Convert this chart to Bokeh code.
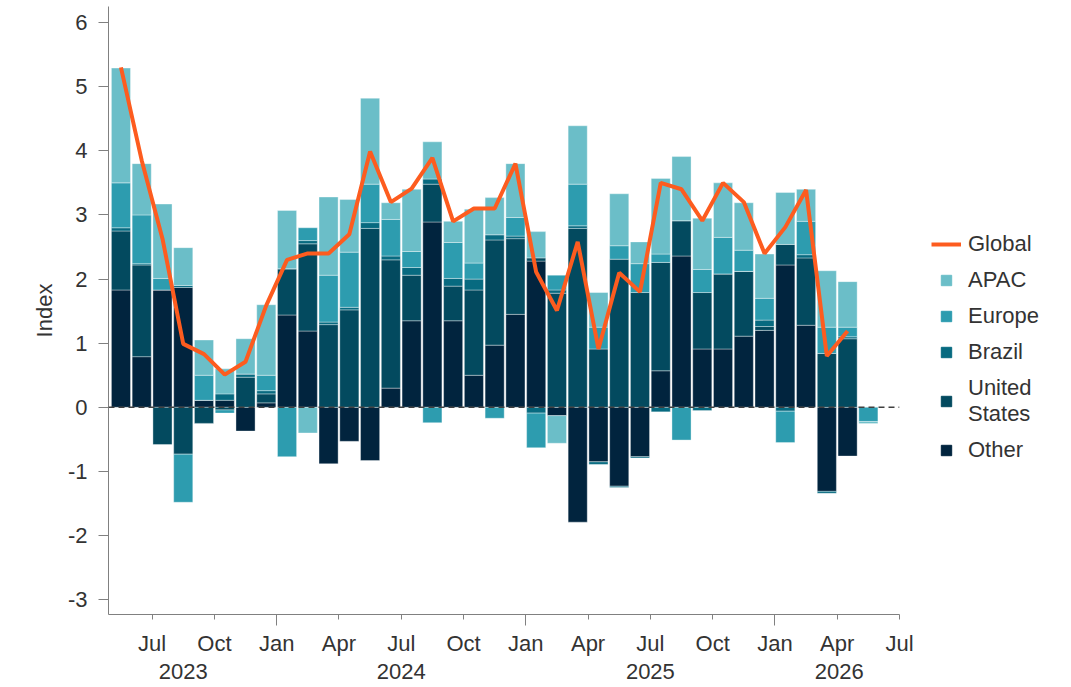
from bokeh.plotting import figure
from bokeh.layouts import row
from bokeh.models import Range1d, FixedTicker, Span, Legend, LegendItem, LinearAxis
from bokeh.embed import file_html
from bokeh.resources import INLINE

# ---------------- data ----------------
months = ["2023-05", "2023-06", "2023-07", "2023-08", "2023-09", "2023-10", "2023-11", "2023-12",
          "2024-01", "2024-02", "2024-03", "2024-04", "2024-05", "2024-06", "2024-07", "2024-08",
          "2024-09", "2024-10", "2024-11", "2024-12", "2025-01", "2025-02", "2025-03", "2025-04",
          "2025-05", "2025-06", "2025-07", "2025-08", "2025-09", "2025-10", "2025-11", "2025-12",
          "2026-01", "2026-02", "2026-03", "2026-04", "2026-05"]

other = [1.83, 0.79, 1.83, 1.87, 0.11, 0.11, -0.37, 0.07,
         1.44, 1.19, -0.88, -0.53, -0.83, 0.30, 1.35, 2.89,
         1.35, 0.50, 0.97, 1.45, 2.28, -0.13, -1.79, -0.85,
         -1.23, -0.77, 0.57, 2.36, 0.91, 0.91, 1.11, 1.20,
         2.22, 1.28, -1.31, -0.76, 0.0]
united_states = [0.92, 1.43, -0.58, -0.73, -0.25, -0.04, 0.47, 0.14,
                 0.72, 1.36, 1.29, 1.52, 2.79, 2.00, 0.71, 0.59,
                 0.54, 1.33, 1.64, 1.18, 0.05, 1.78, 2.79, 0.91,
                 2.31, 1.79, 1.69, 0.55, 0.88, 1.17, 1.01, 0.06,
                 0.32, 1.05, 0.84, 1.07, 0.0]
brazil = [0.05, 0.02, 0.0, 0.03, 0.0, 0.10, 0.05, 0.05,
          0.0, 0.05, 0.04, 0.04, 0.09, 0.06, 0.12, 0.08,
          0.12, 0.17, 0.08, 0.04, -0.09, 0.05, 0.04, -0.04,
          -0.02, -0.02, -0.07, 0.0, -0.05, 0.0, 0.0, 0.10,
          -0.06, 0.05, -0.03, 0.03, 0.0]
europe = [0.70, 0.76, 0.18, -0.75, 0.39, -0.05, 0.0, 0.24,
          -0.77, 0.20, 0.73, 0.86, 0.60, 0.57, 0.25, -0.24,
          0.56, 0.25, -0.17, 0.29, -0.54, 0.23, 0.65, 0.34,
          0.21, 0.45, 0.13, -0.51, 0.36, 0.57, 0.33, 0.34,
          -0.49, 0.52, 0.41, 0.15, -0.22]
apac = [1.79, 0.80, 1.16, 0.59, 0.55, 0.39, 0.55, 1.10,
        0.91, -0.40, 1.22, 0.82, 1.34, 0.26, 0.97, 0.58,
        0.33, 0.84, 0.58, 0.84, 0.41, -0.43, 0.91, 0.54,
        0.81, 0.34, 1.18, 1.00, 0.80, 0.85, 0.74, 0.69,
        0.81, 0.50, 0.88, 0.71, -0.03]
global_index = [5.30, 3.85, 2.63, 0.99, 0.83, 0.51, 0.71, 1.59,
                2.30, 2.40, 2.40, 2.70, 3.99, 3.20, 3.41, 3.89,
                2.90, 3.10, 3.10, 3.80, 2.11, 1.51, 2.58, 0.91,
                2.10, 1.80, 3.50, 3.40, 2.91, 3.50, 3.20, 2.40,
                2.81, 3.39, 0.80, 1.19]

tick_months = ["2023-07", "2023-10", "2024-01", "2024-04", "2024-07", "2024-10", "2025-01",
               "2025-04", "2025-07", "2025-10", "2026-01", "2026-04", "2026-07"]
tick_labels = ["Jul", "Oct", "Jan", "Apr", "Jul", "Oct", "Jan", "Apr", "Jul", "Oct", "Jan", "Apr", "Jul"]
year_labels = ["2023", "2024", "2025", "2026"]
y_ticks = [-3, -2, -1, 0, 1, 2, 3, 4, 5, 6]

series = [("Other", other, "#01243e"),
          ("United States", united_states, "#034a5f"),
          ("Brazil", brazil, "#076a80"),
          ("Europe", europe, "#2d9caf"),
          ("APAC", apac, "#6bbec8")]
line_color = "#fd5c1f"

# ---------------- helpers ----------------
def month_pos(m):
    return (int(m[:4]) - 2023) * 12 + int(m[5:7]) - 1

x_bar = [month_pos(m) + 0.5 for m in months]
x_line = x_bar[:len(global_index)]
tick_pos = [month_pos(m) for m in tick_months]
jan_pos = [t for t, l in zip(tick_pos, tick_labels) if l == "Jan"]
year_pos = [7.5, 18.0, 30.0, 39.1]

FONT = "Liberation Sans"
TXT = "#333333"
AX = "#808080"

p = figure(width=921, height=687, output_backend="svg", toolbar_location=None,
           x_range=Range1d(3.9, 42.0), y_range=Range1d(-3.23, 6.25),
           min_border_left=108, min_border_right=22, min_border_top=6, min_border_bottom=73)
p.outline_line_color = None
p.xgrid.visible = False
p.ygrid.visible = False
p.background_fill_color = "white"
p.border_fill_color = "white"

# stacked bars (positives up, negatives down)
pos_base = [0.0] * len(months)
neg_base = [0.0] * len(months)
for name, vals, color in series:
    bottoms, tops = [], []
    for i, v in enumerate(vals):
        if v >= 0:
            b = pos_base[i]; t = b + v; pos_base[i] = t
        else:
            b = neg_base[i]; t = b + v; neg_base[i] = t
        bottoms.append(b); tops.append(t)
    p.vbar(x=x_bar, bottom=bottoms, top=tops, width=0.92,
           fill_color=color, line_color="white", line_width=0.6, line_alpha=0.6)

zero = Span(location=0, dimension="width", line_color="#404040", line_width=1.5, line_dash="6 4")
p.add_layout(zero)

p.line(x_line, global_index, line_color=line_color, line_width=4)

# axes
xa = p.xaxis[0]
xa.ticker = FixedTicker(ticks=tick_pos, minor_ticks=jan_pos)
xa.major_label_overrides = {t: l for t, l in zip(tick_pos, tick_labels)}
xa.major_tick_out = 5
xa.major_tick_in = 0
xa.minor_tick_out = 11
xa.minor_tick_in = 0
xa.major_label_standoff = 5
xa.axis_line_color = AX
xa.major_tick_line_color = AX
xa.minor_tick_line_color = AX
xa.major_label_text_font = FONT
xa.major_label_text_font_size = "22px"
xa.major_label_text_color = TXT

year_axis = LinearAxis(ticker=FixedTicker(ticks=year_pos, minor_ticks=[]),
                       major_label_overrides={t: l for t, l in zip(year_pos, year_labels)},
                       axis_line_color=None, major_tick_line_color=None, minor_tick_line_color=None,
                       major_tick_out=0, major_tick_in=0, minor_tick_out=0, minor_tick_in=0,
                       major_label_standoff=5, major_label_text_font=FONT,
                       major_label_text_font_size="22px", major_label_text_color=TXT)
p.add_layout(year_axis, "below")

ya = p.yaxis[0]
ya.ticker = FixedTicker(ticks=y_ticks)
ya.major_label_overrides = {t: str(t) for t in y_ticks}
ya.major_tick_out = 10
ya.major_tick_in = 0
ya.minor_tick_line_color = None
ya.major_label_standoff = 11
ya.axis_line_color = AX
ya.major_tick_line_color = AX
ya.major_label_text_font = FONT
ya.major_label_text_font_size = "22px"
ya.major_label_text_color = TXT
ya.axis_label = "Index"
ya.axis_label_standoff = 8
ya.axis_label_text_font = FONT
ya.axis_label_text_font_size = "22px"
ya.axis_label_text_font_style = "normal"
ya.axis_label_text_color = TXT

# ---------------- legend panel ----------------
pl = figure(width=150, height=687, output_backend="svg", toolbar_location=None,
            x_range=Range1d(0, 1), y_range=Range1d(0, 1),
            x_axis_location=None, y_axis_location=None, min_border=0)
pl.outline_line_color = None
pl.xgrid.visible = False
pl.ygrid.visible = False
pl.background_fill_color = "white"
pl.border_fill_color = "white"

# legend key glyphs, placed off-range so only the legend shows them
key_line = pl.line(x=[-2.0, -1.0], y=[-2.0, -2.0], line_color=line_color, line_width=4)
keys = {}
for name, vals, color in series:
    keys[name] = pl.scatter(x=[-2.0], y=[-2.0], marker="square", size=16,
                            fill_color=color, line_color=color)

items = [LegendItem(label="Global", renderers=[key_line]),
         LegendItem(label="APAC", renderers=[keys["APAC"]]),
         LegendItem(label="Europe", renderers=[keys["Europe"]]),
         LegendItem(label="Brazil", renderers=[keys["Brazil"]]),
         LegendItem(label="United\nStates", renderers=[keys["United States"]]),
         LegendItem(label="Other", renderers=[keys["Other"]])]
legend = Legend(items=items, location=(10, 151), glyph_width=30, glyph_height=26,
                label_height=26, label_standoff=7, spacing=10, padding=0, margin=0,
                border_line_alpha=0, background_fill_alpha=0,
                label_text_font=FONT, label_text_font_size="22px", label_text_color=TXT)
pl.add_layout(legend)

layout = row(p, pl, spacing=0)
open("out.html", "w").write(file_html(layout, INLINE))
